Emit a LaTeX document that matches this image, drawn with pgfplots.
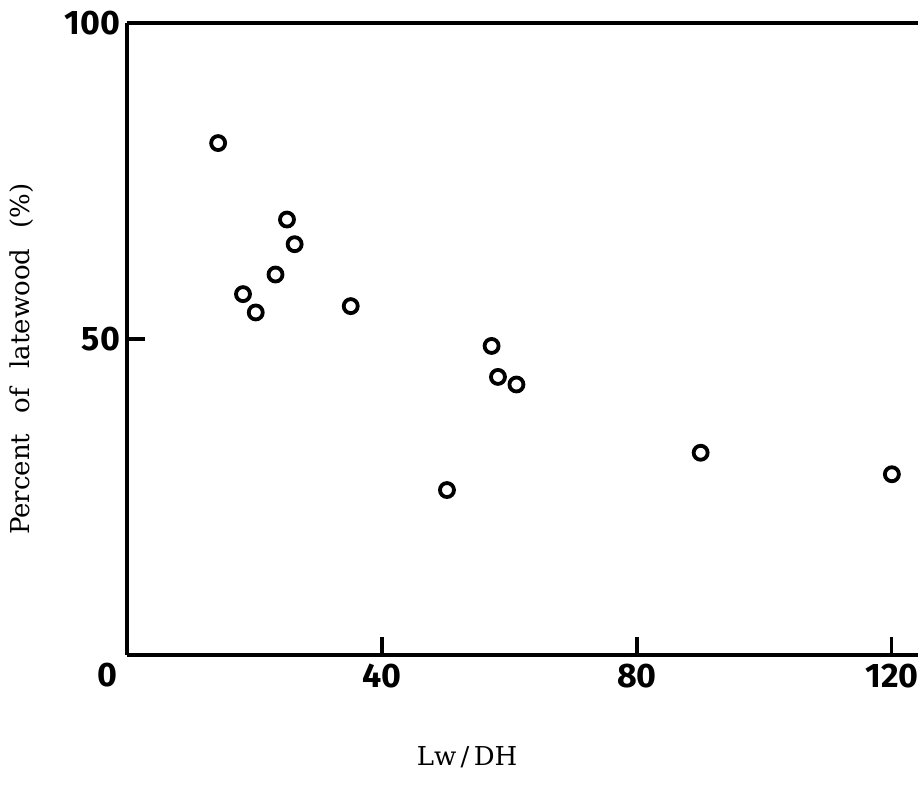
\documentclass[border=0pt]{standalone}
\usepackage{fontspec}
\setsansfont{Fira Sans}
\newfontfamily\labelfont{DejaVu Serif}
\usepackage{pgfplots}
\pgfplotsset{compat=1.18}

\begin{document}
\begin{tikzpicture}
\begin{axis}[
    name=ax,
    scale only axis,
    width=395.5pt, height=316pt,
    xmin=0, xmax=124.1,
    ymin=0, ymax=100,
    axis x line*=bottom,
    axis y line*=left,
    axis line style={line width=2pt, -},
    xtick={40,80,120},
    ytick={50,100},
    tick align=inside,
    major tick length=9pt,
    tick style={line width=1.6pt, black},
    /pgf/number format/assume math mode=true,
    tick label style={font=\sffamily\bfseries\fontsize{17}{17}\selectfont},
    xticklabel style={yshift=-1pt},
    xlabel={Lw\,/\,DH},
    xlabel style={at={(axis description cs:0.43,-0.161)}, anchor=center, font=\labelfont\fontsize{13}{15}\selectfont},
    ylabel={Percent\hspace{0.45em} of\hspace{0.45em} latewood\hspace{0.45em} (\%)},
    ylabel style={at={(axis description cs:-0.1327,0.468)}, anchor=center, rotate=0, font=\labelfont\fontsize{13}{15}\selectfont},
    clip=false,
]
\addplot[only marks, mark=*, mark size=3.5pt,
         mark options={fill=white, draw=black, line width=1.9pt}]
coordinates {
(14.3,81.0) (18.2,57.1) (20.2,54.2) (23.3,60.2) (25.1,68.9) (26.3,65.0)
(35.1,55.2) (50.2,26.1) (57.2,48.9) (58.2,44.0) (61.1,42.8)
(90.0,32.0) (120.0,28.6)
};
\draw[line width=2pt] (rel axis cs:0,1) -- (rel axis cs:1,1);
\node[font=\sffamily\bfseries\fontsize{17}{17}\selectfont, anchor=center]
  at (rel axis cs:0,0) [xshift=-10pt, yshift=-10pt] {0};
\end{axis}
\pgfresetboundingbox
\path ([xshift=-63.5pt, yshift=-68pt]ax.south west) rectangle ([xshift=397pt, yshift=327.5pt]ax.south west);
\end{tikzpicture}
\end{document}
